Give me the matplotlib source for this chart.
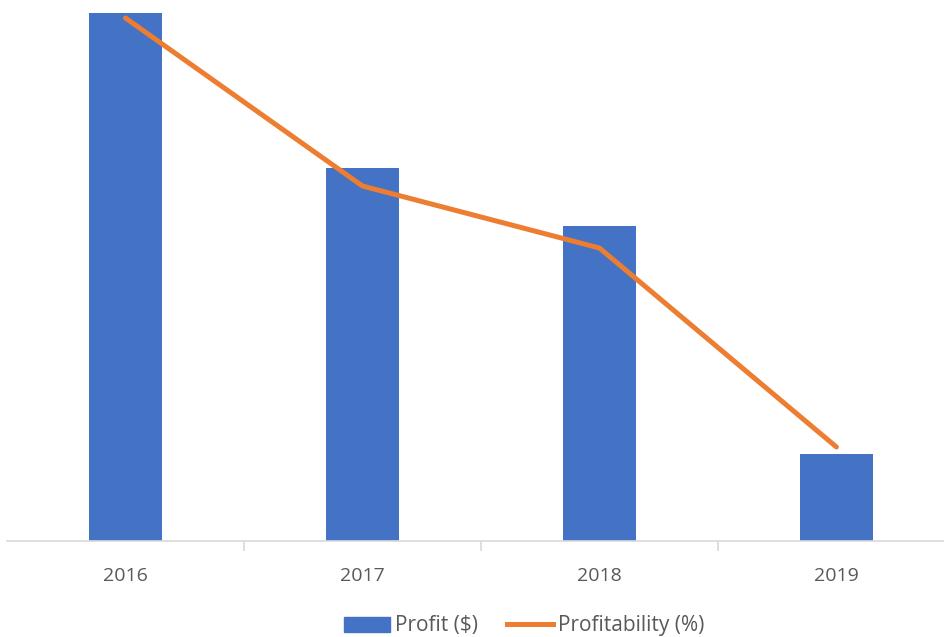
import matplotlib.pyplot as plt
from matplotlib.patches import Patch
from matplotlib.lines import Line2D

# data (no axis shown, so units are relative)
years = ['2016', '2017', '2018', '2019']
profit = [52.8, 37.3, 31.5, 8.7]
profitability = [52.3, 35.5, 29.3, 9.4]

bar_color = '#4472C4'
line_color = '#ED7D31'
text_color = '#595959'
grid_color = '#D9D9D9'

plt.rcParams['font.family'] = ['Open Sans', 'DejaVu Sans']

fig = plt.figure(figsize=(9.44, 6.37), dpi=100)
ax = fig.add_axes([7 / 944, 96 / 637, 937 / 944, 541 / 637])

x = list(range(len(years)))
ax.bar(x, profit, width=0.31, color=bar_color, zorder=2)

# profitability on its own (hidden) axis with the same scale
ax2 = ax.twinx()
ax2.plot(x, profitability, color=line_color, linewidth=3.6,
         solid_capstyle='round', zorder=3)

for a in (ax, ax2):
    a.set_ylim(0, 54.1)
    a.set_xlim(-0.5, 3.454)
    for s in a.spines.values():
        s.set_visible(False)
    a.set_yticks([])

ax.spines['bottom'].set_visible(True)
ax.spines['bottom'].set_color(grid_color)
ax.spines['bottom'].set_linewidth(1.2)

ax.set_xticks(x)
ax.set_xticklabels(years, fontsize=14, color=text_color)
ax.tick_params(axis='x', which='major', length=0, pad=19)
ax.set_xticks([0.5, 1.5, 2.5], minor=True)
ax.tick_params(axis='x', which='minor', length=7, color=grid_color, width=1.2)

handles = [Patch(color=bar_color), Line2D([0], [0], color=line_color, linewidth=3.6)]
fig.legend(handles, ['Profit ($)', 'Profitability (%)'], loc='center',
           bbox_to_anchor=(524 / 944, 1 - 626 / 637), ncol=2, frameon=False,
           fontsize=15, labelcolor=text_color, handlelength=2.2,
           handletextpad=0.25, columnspacing=1.4)

fig.savefig('out.png', dpi=100)
